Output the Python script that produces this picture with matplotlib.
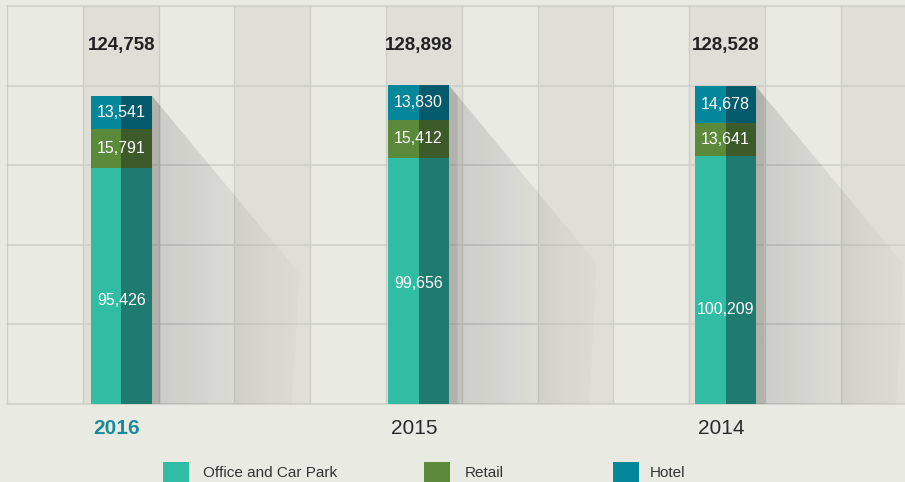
import numpy as np
import matplotlib
matplotlib.use("Agg")
import matplotlib.pyplot as plt
from matplotlib.patches import Polygon, Rectangle
from matplotlib.transforms import blended_transform_factory

plt.rcParams["font.family"] = ["Liberation Sans", "DejaVu Sans"]

# data
years = ["2016", "2015", "2014"]
office = [95426, 99656, 100209]
retail = [15791, 15412, 13641]
hotel = [13541, 13830, 14678]
totals = [124758, 128898, 128528]
series_names = ["Office and Car Park", "Retail", "Hotel"]

# layout / styling
BG_LIGHT = "#e9ebe3"
BG_DARK = "#dfdfd7"
GRID = "#cdcec8"
LIGHT = ["#31bca4", "#5b8a3a", "#04879a"]
DARK = ["#1f7b6f", "#3d5a2b", "#035a6a"]
bar_pos = [1.51, 5.43, 9.48]      # in background-column units
bar_w = 0.80
office_label_frac = [0.44, 0.49, 0.38]
YMAX = 161000
SH_DX = 1.95         # shadow reach, column units
SH_DROP = 72000      # shadow diagonal drop, data units

fig = plt.figure(figsize=(9.05, 4.82), dpi=100)
fig.patch.set_facecolor(BG_LIGHT)
ax = fig.add_axes([7 / 905, 78 / 482, 898 / 905, 398 / 482])
ax.set_facecolor(BG_LIGHT)
xmax = 898 / 75.8

# striped background columns
for i in range(12):
    if i % 2 == 1:
        ax.axvspan(i, i + 1, color=BG_DARK, lw=0, zorder=0)
for i in range(12):
    ax.axvline(i, color=GRID, lw=1, zorder=1)
for y in np.linspace(0, YMAX, 6):
    ax.axhline(y, color=GRID, lw=1.1, zorder=1, clip_on=False)

# gradient shadows behind the bars
n = 300
t = np.linspace(0, 1, n)
for xc, top in zip(bar_pos, totals):
    xr = xc + bar_w / 2
    poly = Polygon([(xr, top), (xr + SH_DX, top - SH_DROP),
                    (xr + SH_DX - 0.1, 0), (xr, 0)],
                   closed=True, facecolor="none", edgecolor="none")
    ax.add_patch(poly)
    alpha = 0.12 * (1 - t) ** 1.1 + 0.015
    alpha[t < 0.055] = 0.2
    img = np.zeros((1, n, 4))
    img[..., 3] = alpha
    im = ax.imshow(img, extent=[xr, xr + SH_DX, 0, top], aspect="auto",
                   interpolation="bilinear", zorder=2)
    im.set_clip_path(poly)

# split-tone stacked bars
left = [p - bar_w / 2 for p in bar_pos]
mid = [p for p in bar_pos]
bottoms = np.zeros(3)
for k, vals in enumerate([office, retail, hotel]):
    ax.bar(left, vals, width=bar_w / 2, bottom=bottoms, align="edge",
           color=LIGHT[k], lw=0, zorder=3)
    ax.bar(mid, vals, width=bar_w / 2, bottom=bottoms, align="edge",
           color=DARK[k], lw=0, zorder=3)
    for j, v in enumerate(vals):
        frac = office_label_frac[j] if k == 0 else 0.5
        ax.text(bar_pos[j], bottoms[j] + v * frac, f"{v:,}", ha="center",
                va="center", color="white", fontsize=11.5, zorder=4)
    bottoms = bottoms + np.array(vals)

trans = blended_transform_factory(ax.transData, ax.transAxes)
for j, tot in enumerate(totals):
    ax.text(bar_pos[j], 0.9, f"{tot:,}", transform=trans, ha="center",
            va="center", fontsize=13.5, fontweight="bold", color="#222222")
    ax.text(bar_pos[j] - 0.06, -0.062, years[j], transform=trans, ha="center",
            va="center", fontsize=15,
            fontweight="bold" if j == 0 else "normal",
            color="#1b8a9c" if j == 0 else "#2a2a2a", clip_on=False)

ax.set_xlim(0, xmax)
ax.set_ylim(0, YMAX)
ax.set_xticks([])
ax.set_yticks([])
for s in ax.spines.values():
    s.set_visible(False)

# legend, drawn by hand
sq_x = [163, 424, 613]
tx_x = [203, 465, 650]
for k in range(3):
    fig.add_artist(Rectangle((sq_x[k] / 905, (482 - 486) / 482), 26 / 905, 24 / 482,
                             transform=fig.transFigure, color=LIGHT[k], lw=0))
    fig.text(tx_x[k] / 905, (482 - 473) / 482, series_names[k], ha="left",
             va="center", fontsize=11, color="#333333")

fig.savefig("out.png", dpi=100, facecolor=fig.get_facecolor())
